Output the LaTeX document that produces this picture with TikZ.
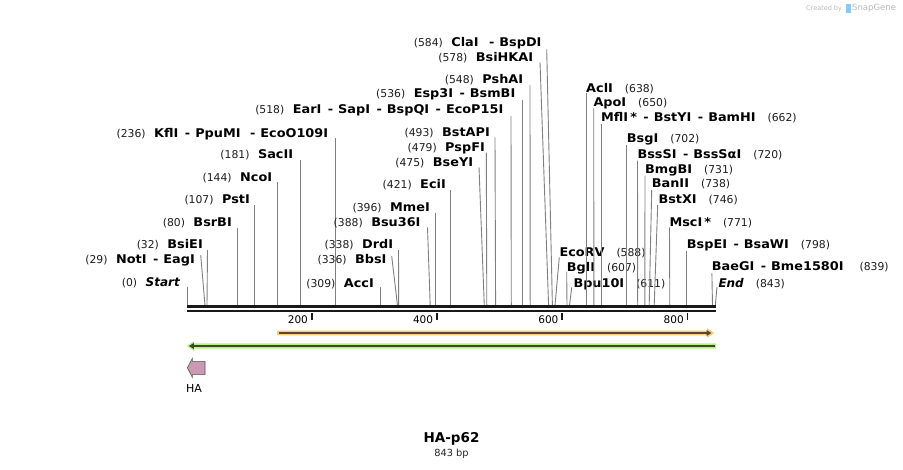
\documentclass[tikz,border=0pt]{standalone}
\usepackage{fontspec}
\setmainfont{DejaVu Sans}[BoldFont={DejaVu Sans Bold},ItalicFont={DejaVu Sans Oblique},BoldItalicFont={DejaVu Sans Bold Oblique}]
\newfontfamily\enzfont{DejaVu Sans Bold}[FakeStretch=1.07]
\usetikzlibrary{arrows.meta}
\definecolor{cutc}{RGB}{128,128,128}
\definecolor{numc}{RGB}{30,30,30}
\definecolor{mapc}{RGB}{25,25,25}
\definecolor{orhalo}{RGB}{250,204,122}
\definecolor{ordark}{RGB}{88,72,52}
\definecolor{grhalo}{RGB}{182,240,132}
\definecolor{grdark}{RGB}{60,72,48}
\definecolor{hapink}{RGB}{204,153,180}
\definecolor{wmgray}{RGB}{185,185,185}
\definecolor{wmblue}{RGB}{140,200,240}
\newcommand{\Ename}[1]{{\enzfont #1}}
\newcommand{\Enum}[1]{{\fontsize{10.8}{13}\selectfont\color{numc}(#1)}}
\newcommand{\Esep}{\hspace{6.5pt}-\hspace{5pt}}
\newcommand{\gL}{\hspace{8.5pt}}
\newcommand{\gR}{\hspace{12pt}}
\tikzset{
  lab/.style={inner sep=0pt, font=\fontsize{12}{14}\selectfont},
  labL/.style={lab, anchor=base east},
  labR/.style={lab, anchor=base west},
  cut/.style={draw=cutc, line width=0.9pt},
}
\newcommand{\cutL}[7]{%
  \coordinate (A#1) at (#4,#5);
  \coordinate (S#1) at (#6,305.5);
  \draw[cut] (A#1) -- (S#1);
  \node[labL] (L#1) at (#2,#3+4.3) {#7};}
\newcommand{\cutR}[7]{%
  \coordinate (A#1) at (#4,#5);
  \coordinate (S#1) at (#6,305.5);
  \draw[cut] (A#1) -- (S#1);
  \node[labR] (L#1) at (#2,#3+4.3) {#7};}
\begin{document}
\begin{tikzpicture}[x=1pt,y=-1pt]
\useasboundingbox[fill=white] (0,0) rectangle (903,469);
% watermark
\node[anchor=base west, inner sep=0pt, text=wmgray, font=\fontsize{6.5}{7}\selectfont] (wm1) at (806,10) {Created by};
\fill[wmblue] (846,3.5) rectangle (850.5,12.5);
\node[anchor=base west, inner sep=0pt, text=wmgray, font=\fontsize{8.5}{9}\selectfont] (wm2) at (852,10.5) {SnapGene};
% cut sites, left side
\cutL{0}{180}{281.7}{187.3}{286.7}{187.3}{\Enum{0}\gL{\bfseries\itshape Start}}
\cutL{29}{195}{259.3}{200.7}{255}{205}{\Enum{29}\gL\Ename{NotI\Esep EagI}}
\cutL{32}{203}{244}{207.5}{250}{207}{\Enum{32}\gL\Ename{BsiEI}}
\cutL{80}{232}{221.7}{237.2}{227.7}{237.2}{\Enum{80}\gL\Ename{BsrBI}}
\cutL{107}{250}{199.3}{254.2}{205}{254.2}{\Enum{107}\gL\Ename{PstI}}
\cutL{144}{272.3}{176.7}{277.5}{182.3}{277.5}{\Enum{144}\gL\Ename{NcoI}}
\cutL{181}{293.3}{154}{300.6}{160}{300.6}{\Enum{181}\gL\Ename{SacII}}
\cutL{236}{328.3}{132.7}{335}{138}{335}{\Enum{236}\gL\Ename{KflI\Esep PpuMI\hspace{3pt}\Esep EcoO109I}}
\cutL{309}{374}{282.7}{380.3}{287.3}{380.3}{\Enum{309}\gL\Ename{AccI}}
\cutL{336}{386.7}{259.3}{391.7}{256}{397.5}{\Enum{336}\gL\Ename{BbsI}}
\cutL{338}{393.3}{244}{398.5}{250}{398.7}{\Enum{338}\gL\Ename{DrdI}}
\cutL{388}{420.7}{222.3}{427.5}{227.3}{430.2}{\Enum{388}\gL\Ename{Bsu36I}}
\cutL{396}{430}{207.3}{435.2}{212.7}{435.2}{\Enum{396}\gL\Ename{MmeI}}
\cutL{421}{446}{184}{450.8}{190}{450.8}{\Enum{421}\gL\Ename{EciI}}
\cutL{475}{473.3}{161.7}{479}{167.3}{484.3}{\Enum{475}\gL\Ename{BseYI}}
\cutL{479}{485}{146.7}{486.3}{152.7}{486.8}{\Enum{479}\gL\Ename{PspFI}}
\cutL{493}{490}{131.7}{495}{137.3}{495.6}{\Enum{493}\gL\Ename{BstAPI}}
\cutL{518}{503.5}{109.3}{511}{116}{511.3}{\Enum{518}\gL\Ename{EarI\Esep SapI\Esep BspQI\Esep EcoP15I}}
\cutL{536}{515.5}{93.3}{522.7}{100}{522.7}{\Enum{536}\gL\Ename{Esp3I\Esep BsmBI}}
\cutL{548}{523.3}{79.3}{530}{85}{530.2}{\Enum{548}\gL\Ename{PshAI}}
\cutL{578}{533.3}{56.7}{540}{62.3}{548.6}{\Enum{578}\gL\Ename{BsiHKAI}}
\cutL{584}{541.7}{42.3}{546.7}{49.3}{552.4}{\Enum{584}\gL\Ename{ClaI\hspace{4pt}\Esep BspDI}}
% cut sites, right side
\cutR{588}{559.3}{252.3}{559.3}{257.3}{555}{\Ename{EcoRV}\gR\Enum{588}}
\cutR{607}{566.7}{266.7}{566.7}{271.7}{567}{\Ename{BglI}\gR\Enum{607}}
\cutR{611}{573.3}{282.7}{571.7}{287.3}{569.5}{\Ename{Bpu10I}\gR\Enum{611}}
\cutR{638}{586}{87.7}{586.7}{93.3}{586.7}{\Ename{AclI}\gR\Enum{638}}
\cutR{650}{593.3}{101.7}{593.7}{108.3}{593.9}{\Ename{ApoI}\gR\Enum{650}}
\cutR{662}{601}{117.3}{601.7}{124.3}{601.7}{\Ename{MflI\,*\Esep BstYI\Esep BamHI}\gR\Enum{662}}
\cutR{702}{626.7}{138.3}{626.9}{145}{626.9}{\Ename{BsgI}\gR\Enum{702}}
\cutR{720}{637.3}{154}{637.5}{160.7}{637.7}{\Ename{BssSI\Esep BssSαI}\gR\Enum{720}}
\cutR{731}{645}{169}{645}{175.7}{644.8}{\Ename{BmgBI}\gR\Enum{731}}
\cutR{738}{651.7}{183.3}{651.7}{190}{649.2}{\Ename{BanII}\gR\Enum{738}}
\cutR{746}{658.3}{199}{657.7}{205}{654.2}{\Ename{BstXI}\gR\Enum{746}}
\cutR{771}{669.3}{221.7}{669.5}{227.3}{669.8}{\Ename{MscI\,*}\gR\Enum{771}}
\cutR{798}{686.7}{244}{686.9}{250.7}{686.9}{\Ename{BspEI\Esep BsaWI}\gR\Enum{798}}
\cutR{839}{711.7}{266}{711.9}{273.3}{712.5}{\Ename{BaeGI\Esep Bme1580I}\hspace{16pt}\Enum{839}}
\cutR{843}{718.3}{282.7}{717}{287}{715.3}{{\bfseries\itshape End}\gR\Enum{843}}
% sequence map
\coordinate (m0) at (187,306.6);
\coordinate (m1) at (716,306.6);
\coordinate (n0) at (187,311.4);
\coordinate (n1) at (716,311.4);
\draw[mapc, line width=2.6pt] (m0) -- (m1);
\draw[mapc, line width=2pt] (n0) -- (n1);
% ticks
\foreach \t/\xx in {200/311.6,400/436.8,600/562.1,800/687.4}{
  \coordinate (t\t a) at (\xx,312.5);
  \coordinate (t\t b) at (\xx,320);
  \draw[mapc, line width=1.8pt] (t\t a) -- (t\t b);
  \node[anchor=base east, inner sep=0pt, font=\fontsize{10.5}{12}\selectfont] (tl\t) at (\xx-3.5,323.3) {\t};
}
% orange feature
\fill[orhalo] (277,330.6) -- (707,330.6) -- (707,328.2) -- (714.5,333) -- (707,337.8) -- (707,335.4) -- (277,335.4) -- cycle;
\coordinate (o0) at (278.5,333);
\coordinate (o1) at (711.5,333);
\draw[ordark, line width=1.6pt, -{Triangle[length=5pt,width=5.5pt]}] (o0) -- (o1);
% green feature
\fill[grhalo] (716,343.4) -- (194,343.4) -- (194,341) -- (186.8,346) -- (194,351) -- (194,348.6) -- (716,348.6) -- cycle;
\coordinate (g0) at (715,346);
\coordinate (g1) at (188.8,346);
\draw[grdark, line width=1.6pt, -{Triangle[length=5pt,width=5.5pt]}] (g0) -- (g1);
% HA feature
\draw[fill=hapink, draw=black!65, line width=0.6pt] (187.4,367.8) -- (192.3,358.4) -- (192.3,361.3) -- (205,361.3) -- (205,374.6) -- (192.3,374.6) -- (192.3,377.3) -- cycle;
\node[inner sep=0pt, font=\fontsize{11}{12}\selectfont] (ha) at (194,388) {HA};
% title
\node[anchor=base, inner sep=0pt, font=\fontsize{13.5}{15}\selectfont\bfseries] (title) at (451.5,442.7) {HA-p62};
\node[anchor=base, inner sep=0pt, text=black!85, font=\fontsize{9.8}{11}\selectfont] (len) at (451.5,456) {843 bp};
\end{tikzpicture}
\end{document}
